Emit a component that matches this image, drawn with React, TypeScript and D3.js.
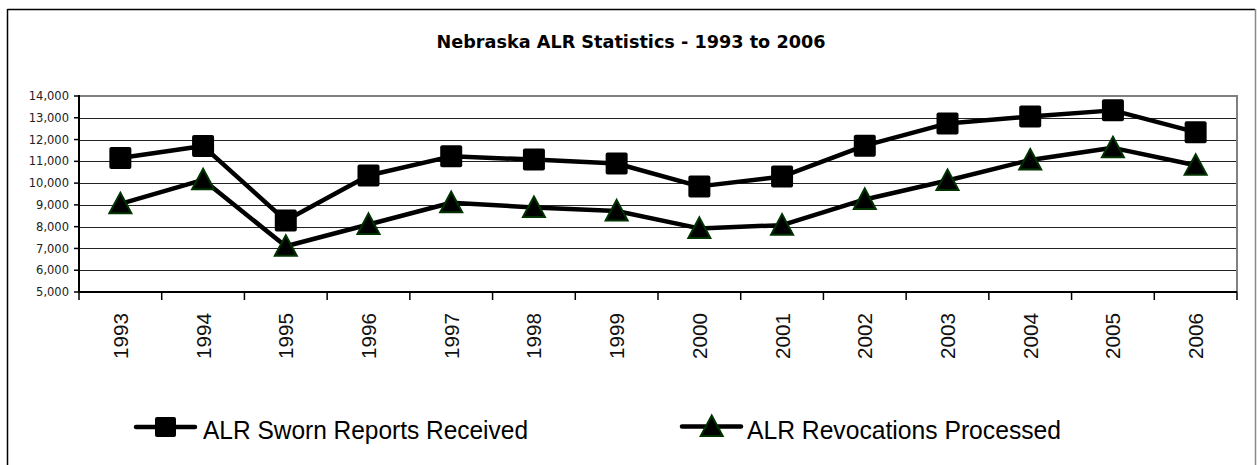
import React from "react";
import * as d3 from "d3";

const years = ["1993","1994","1995","1996","1997","1998","1999","2000","2001","2002","2003","2004","2005","2006"];
const swornReports = [11150, 11700, 8280, 10350, 11230, 11080, 10900, 9850, 10300, 11720, 12740, 13060, 13340, 12340];
const revocations = [9050, 10150, 7100, 8100, 9100, 8880, 8720, 7920, 8070, 9250, 10120, 11060, 11620, 10820];
const yTicks = [5000, 6000, 7000, 8000, 9000, 10000, 11000, 12000, 13000, 14000];
const title = "Nebraska ALR Statistics - 1993 to 2006";
const seriesNames = ["ALR Sworn Reports Received", "ALR Revocations Processed"];

const W = 1257, H = 465;
const L = 79, R = 1237, T = 96, B = 292;

export default function App() {
  const x = d3.scaleBand<string>().domain(years).range([L, R]).padding(0);
  const y = d3.scaleLinear().domain([5000, 14000]).range([B, T]);
  const cx = (yr: string) => (x(yr) as number) + x.bandwidth() / 2;
  const line = d3.line<number>().x((_, i) => cx(years[i])).y((d) => y(d));
  const fmt = d3.format(",");
  const tri = (px: number, py: number) => `M${px},${py - 11}L${px + 11},${py + 9.5}L${px - 11},${py + 9.5}Z`;
  const edges = [...years.map((yr) => x(yr) as number), R];

  return (
    <svg width={W} height={H} style={{ position: "absolute", left: 0, top: 0, background: "#fff" }}>
      <rect x={0} y={0} width={W} height={H} fill="#fff" />
      {/* outer frame */}
      <line x1={7.5} y1={9.5} x2={1255} y2={9.5} stroke="#000" strokeWidth={1.5} />
      <line x1={7.5} y1={9} x2={7.5} y2={H} stroke="#000" strokeWidth={1.5} />
      <line x1={1255.5} y1={9} x2={1255.5} y2={H} stroke="#888" strokeWidth={1.5} />

      <text x={631} y={48} textAnchor="middle" fontFamily="'DejaVu Sans', sans-serif" fontWeight="bold" fontSize={17.5}
        textLength={389} lengthAdjust="spacingAndGlyphs" fill="#000">{title}</text>

      {/* gridlines */}
      {yTicks.filter((t) => t !== 5000 && t !== 14000).map((t) => (
        <line key={t} x1={L} x2={R} y1={Math.round(y(t)) + 0.5} y2={Math.round(y(t)) + 0.5} stroke="#222" strokeWidth={1} />
      ))}
      <line x1={L} x2={R + 1} y1={T} y2={T} stroke="#808080" strokeWidth={2} />
      <line x1={R} x2={R} y1={T} y2={B} stroke="#808080" strokeWidth={2} />

      {/* y axis */}
      <line x1={L} x2={L} y1={T - 1} y2={B + 1} stroke="#000" strokeWidth={2} />
      {yTicks.map((t) => (
        <g key={t}>
          <line x1={L - 5} x2={L} y1={y(t)} y2={y(t)} stroke="#000" strokeWidth={1.5} />
          <text x={69} y={y(t)} dy="0.36em" textAnchor="end" fontFamily="'DejaVu Sans', sans-serif" fontSize={11.5} fill="#222">{fmt(t)}</text>
        </g>
      ))}

      {/* x axis */}
      <line x1={L} x2={R} y1={B} y2={B} stroke="#000" strokeWidth={2} />
      {edges.map((e, i) => (
        <line key={i} x1={e} x2={e} y1={B} y2={B + 8} stroke="#000" strokeWidth={1.5} />
      ))}
      {years.map((yr) => (
        <text key={yr} transform={`translate(${cx(yr)},313) rotate(-90)`} dy="0.36em" textAnchor="end"
          fontFamily="'Liberation Sans', Arial, sans-serif" fontSize={21} fill="#111"
          textLength={46} lengthAdjust="spacingAndGlyphs">{yr}</text>
      ))}

      {/* series */}
      <path d={line(swornReports) as string} fill="none" stroke="#000" strokeWidth={4.5} strokeLinejoin="round" />
      <path d={line(revocations) as string} fill="none" stroke="#000" strokeWidth={4.5} strokeLinejoin="round" />
      {swornReports.map((v, i) => (
        <rect key={i} x={cx(years[i]) - 11} y={y(v) - 11} width={22} height={22} rx={2} fill="#000" />
      ))}
      {revocations.map((v, i) => (
        <path key={i} d={tri(cx(years[i]), y(v))} fill="#000" stroke="#003300" strokeWidth={2} strokeLinejoin="miter" />
      ))}

      {/* legend */}
      <line x1={136} x2={195} y1={427} y2={427} stroke="#000" strokeWidth={4.5} strokeLinecap="round" />
      <rect x={155} y={417} width={21} height={20} rx={2} fill="#000" />
      <text x={203} y={439} fontFamily="'Liberation Sans', Arial, sans-serif" fontSize={26} fill="#000"
        textLength={325} lengthAdjust="spacingAndGlyphs">{seriesNames[0]}</text>

      <line x1={682} x2={741} y1={426.5} y2={426.5} stroke="#000" strokeWidth={4.5} strokeLinecap="round" />
      <path d={tri(711.7, 426.5)} fill="#000" stroke="#003300" strokeWidth={2} />
      <text x={747} y={439} fontFamily="'Liberation Sans', Arial, sans-serif" fontSize={26} fill="#000"
        textLength={314} lengthAdjust="spacingAndGlyphs">{seriesNames[1]}</text>
    </svg>
  );
}
